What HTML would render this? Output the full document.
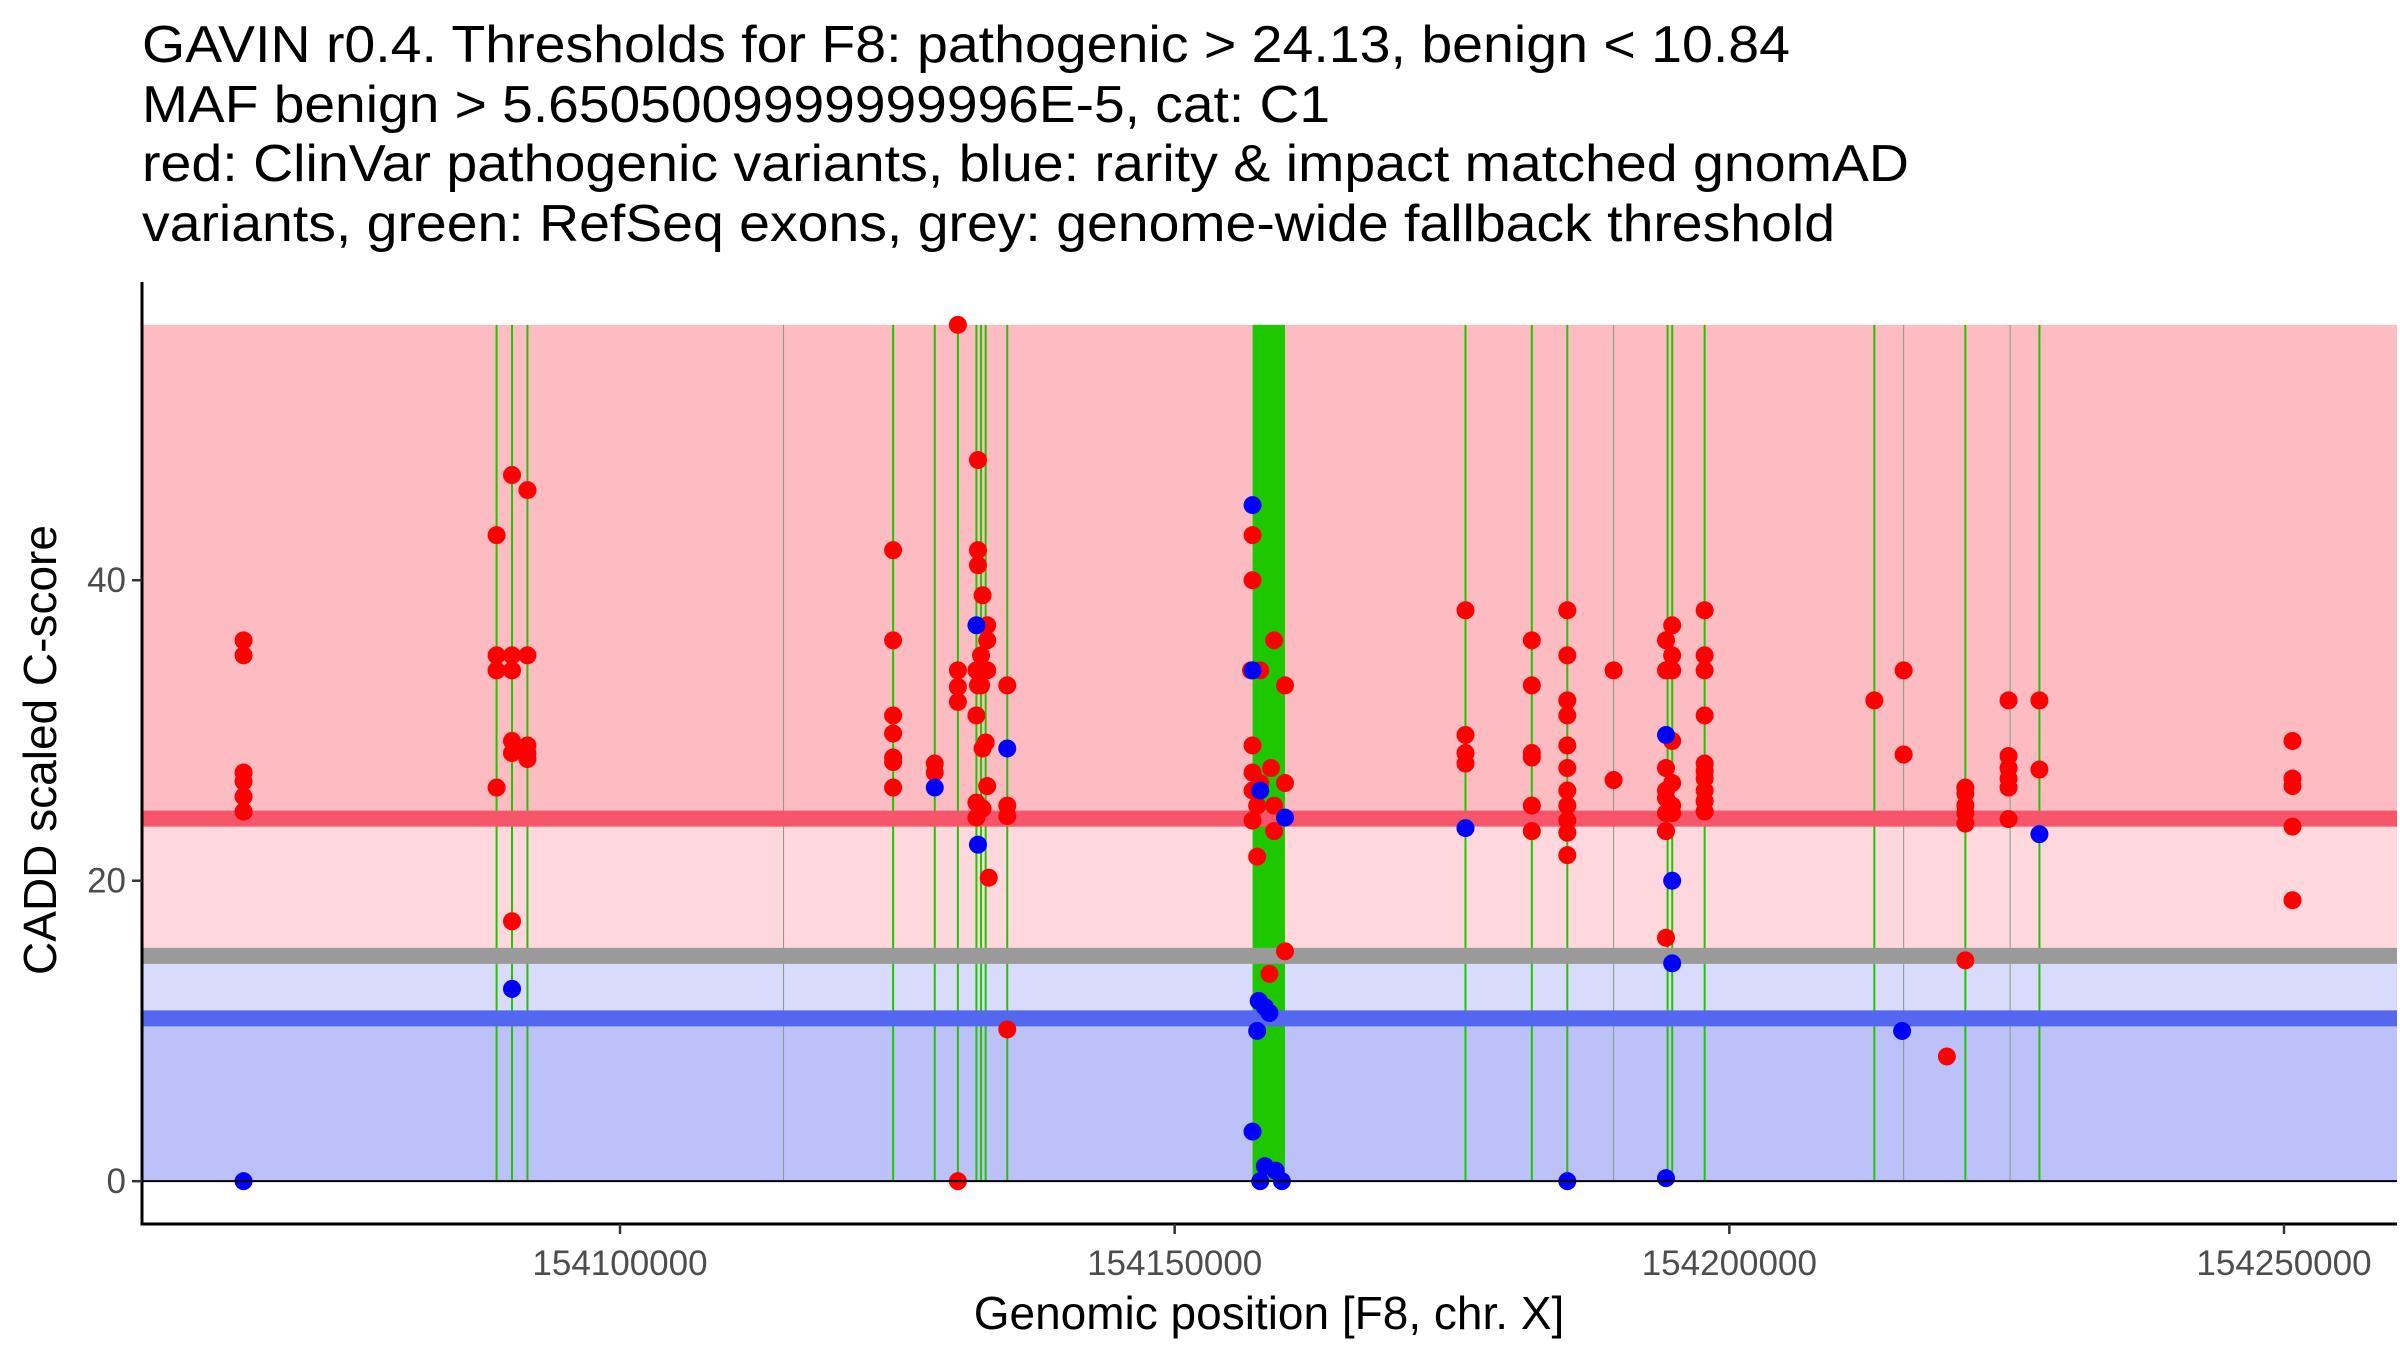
<!DOCTYPE html>
<html><head><meta charset="utf-8"><style>
html,body{margin:0;padding:0;background:#fff;}
svg{display:block;font-family:"Liberation Sans",Arial,sans-serif;}
</style></head><body>
<svg id="chart" width="2400" height="1350" viewBox="0 0 2400 1350">
<g font-size="52" fill="#000">
<text x="142" y="62" textLength="1648" lengthAdjust="spacingAndGlyphs">GAVIN r0.4. Thresholds for F8: pathogenic &gt; 24.13, benign &lt; 10.84</text>
<text x="142" y="122" textLength="1188" lengthAdjust="spacingAndGlyphs">MAF benign &gt; 5.6505009999999996E-5, cat: C1</text>
<text x="142" y="181" textLength="1767" lengthAdjust="spacingAndGlyphs">red: ClinVar pathogenic variants, blue: rarity &amp; impact matched gnomAD</text>
<text x="142" y="241" textLength="1693" lengthAdjust="spacingAndGlyphs">variants, green: RefSeq exons, grey: genome-wide fallback threshold</text>
</g>
<g id="bands"></g>
<g id="exons"></g>
<g id="hlines"></g>
<g id="points"></g>
<g id="axes"></g>
<text x="40" y="750" transform="rotate(-90 40 750)" text-anchor="middle" dominant-baseline="central" font-size="46">CADD scaled C-score</text>
<text x="1269" y="1329" text-anchor="middle" font-size="46">Genomic position [F8, chr. X]</text>
</svg>
<script>
const xTicks = [154100000, 154150000, 154200000, 154250000];
const yTicks = [0, 20, 40];
const thresholds = [24.13, 15, 10.84];
const bandTop = 57;
const exonThin = [154088874,154090265,154091656,154124618,154128373,154130459,154132128,154132545,154132963,154134909,154176216,154182196,154185395,154194435,154194852,154197774,154213072,154221277,154227954];
const exonFaint = [154114742,154189567,154215714,154225311];
const exonWide = [[154157023,154159944]];
const redX = [
154066064,154066064,154066064,154066064,154066064,154066064,
154088874,154088874,154088874,154088874,
154090265,154090265,154090265,154090265,154090265,154090265,
154091656,154091656,154091656,154091656,154091656,
154124618,154124618,154124618,154124618,154124618,154124618,154124618,
154128373,154128373,
154130459,154130459,154130459,154130459,154130459,
154132266,154132266,154132266,154132683,154133099,154133099,154132545,154132128,154133099,154132266,154132545,154132128,154132963,154132683,154133099,154132128,154132683,154132128,154133238,
154134909,154134909,154134909,154134909,
154157019,154157019,154157019,154158962,154156880,154157713,154157019,154157019,154157713,154159944,154158685,154157019,154157436,154158962,154157019,154158962,154157436,154159944,154159944,154158546,
154176216,154176216,154176216,154176216,
154182196,154182196,154182196,154182196,154182196,154182196,
154185395,154185395,154185395,154185395,154185395,154185395,154185395,154185395,154185395,154185395,154185395,
154189567,154189567,
154194292,154194292,154194292,154194292,154194292,154194292,154194292,154194292,
154194847,154194847,154194847,154194847,154194847,154194847,154194847,
154197774,154197774,154197774,154197774,154197774,154197774,154197774,154197774,154197774,154197774,
154213072,154215714,154215714,154219610,
154221277,154221277,154221277,154221277,154221277,154221277,
154225171,154225171,154225171,154225171,154225171,154225171,
154227954,154227954,
154250766,154250766,154250766,154250766,154250766];
const redY = [
36,35,27.2,26.6,25.6,24.6,
43,35,34,26.2,
47,35,34,29.3,28.5,17.3,
46,35,29,28.5,28.1,
42,36,31,29.8,28.2,27.9,26.2,
27.8,27.2,
57,34,32.9,31.9,0,
48,42,41,39,37,36,35,34,34,33,33,31,29.2,28.8,26.3,25.2,24.8,24.2,20.2,
33,25,24.3,10.1,
43,40,34,36,34,34,29,27.2,26.5,26.5,27.5,26,25,25,24,23.3,21.6,33,15.3,13.8,
38,29.7,28.5,27.8,
36,33,28.5,28.2,25,23.3,
38,35,32,31,29,27.5,26,25,24,23.2,21.7,
34,26.7,
36,34,27.5,26,25.5,24.5,23.3,16.2,
37,35,34,29.3,26.5,25,24.5,
38,35,34,31,27.8,27.3,26.8,26,25.3,24.6,
32,34,28.4,8.3,
26.2,25.8,25,24.5,23.8,14.7,
32,28.3,27.5,26.8,26.2,24.1,
32,27.4,
29.3,26.8,26.3,23.6,18.7];
const blueX = [154066064,154090265,154128373,154132128,154132266,154134909,
154157019,154157019,154157575,154158130,154158546,154157436,154157019,154158130,154159101,154157713,154159666,154159944,154157713,
154176216,154185395,154194292,154194292,154194847,154194847,154215575,154227954];
const blueY = [0,12.8,26.2,37,22.4,28.8,
45,34,12,11.6,11.2,10,3.3,1,0.7,0,0,24.2,26,
23.5,0,29.7,0.2,20,14.5,10,23.1];

const NS='http://www.w3.org/2000/svg';
const L=142,R=2397,T=282,B=1224;
const xMin=154056910,xMax=154260187,yMin=-2.85,yMax=59.85;
function sx(v){return L+(v-xMin)/(xMax-xMin)*(R-L);}
function sy(v){return B-(v-yMin)/(yMax-yMin)*(B-T);}
function mk(tag,attrs,parent){const e=document.createElementNS(NS,tag);for(const k in attrs)e.setAttribute(k,attrs[k]);parent.appendChild(e);return e;}

const bands=document.getElementById('bands');
const bandDefs=[[thresholds[0],bandTop,'#fdbcc1','band-pathogenic'],[thresholds[1],thresholds[0],'#fed8dc','band-fallback-upper'],[thresholds[2],thresholds[1],'#d8dbfb','band-fallback-lower'],[0,thresholds[2],'#bcc2f9','band-benign']];
bandDefs.forEach(b=>{const r=mk('rect',{x:L,y:sy(b[1]),width:R-L,height:sy(b[0])-sy(b[1]),fill:b[2]},bands);

});

const ex=document.getElementById('exons');
exonThin.forEach(v=>{const l=mk('line',{x1:sx(v),x2:sx(v),y1:sy(bandTop),y2:sy(0),stroke:'#22c400','stroke-width':2},ex);

});
exonFaint.forEach(v=>{const l=mk('line',{x1:sx(v),x2:sx(v),y1:sy(bandTop),y2:sy(0),stroke:'#7aa07a','stroke-width':1},ex);

});
exonWide.forEach(v=>{const r=mk('rect',{x:sx(v[0]),y:sy(bandTop),width:sx(v[1])-sx(v[0]),height:sy(0)-sy(bandTop),fill:'#1ec800'},ex);

});

const hl=document.getElementById('hlines');
const hcol=['#f7566a','#9a9a9a','#5367ef'];
const hnames=['pathogenic-threshold-line','fallback-threshold-line','benign-threshold-line'];
thresholds.forEach((t,i)=>{const l=mk('line',{x1:L,x2:R,y1:sy(t),y2:sy(t),stroke:hcol[i],'stroke-width':16},hl);

});

const ax=document.getElementById('axes');
const z=mk('line',{x1:L,x2:R,y1:sy(0),y2:sy(0),stroke:'#000','stroke-width':2},ax);



const pts=document.getElementById('points');
redX.forEach((v,i)=>{const c=mk('circle',{cx:sx(v),cy:sy(redY[i]),r:9,fill:'#ff0000'},pts);

});
blueX.forEach((v,i)=>{const c=mk('circle',{cx:sx(v),cy:sy(blueY[i]),r:9,fill:'#0000ff'},pts);

});

const ya=mk('line',{x1:L,x2:L,y1:T,y2:B+1.5,stroke:'#000','stroke-width':3},ax);


const xa=mk('line',{x1:L-1.5,x2:R,y1:B,y2:B,stroke:'#000','stroke-width':3},ax);


yTicks.forEach(v=>{const t=mk('line',{x1:L-10,x2:L,y1:sy(v),y2:sy(v),stroke:'#333','stroke-width':2.5},ax);


const tx=mk('text',{x:L-16,y:sy(v)+12,'text-anchor':'end','font-size':35,fill:'#4d4d4d'},ax);tx.textContent=v;

});
xTicks.forEach(v=>{const t=mk('line',{x1:sx(v),x2:sx(v),y1:B,y2:B+10,stroke:'#333','stroke-width':2.5},ax);


const tx=mk('text',{x:sx(v),y:1275,'text-anchor':'middle','font-size':35,fill:'#4d4d4d'},ax);tx.textContent=v;

});
</script>
</body></html>
